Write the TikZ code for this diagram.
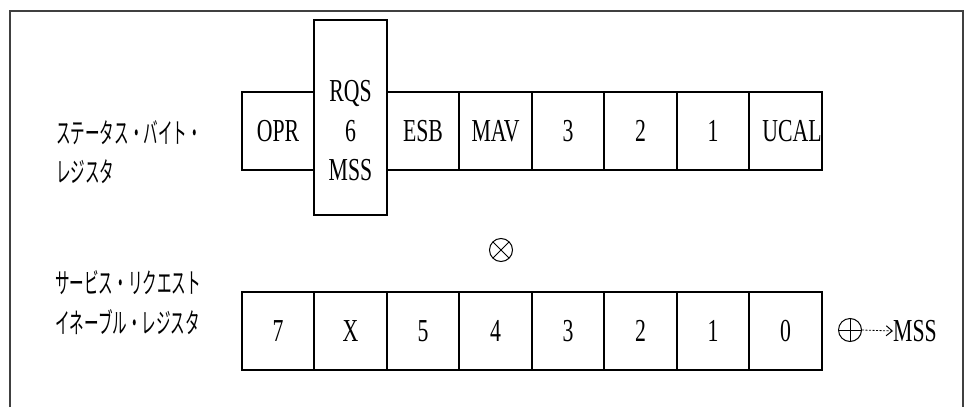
\documentclass[tikz,border=0pt]{standalone}
\usepackage{fontspec}
\usepackage{graphicx}
\setmainfont{Liberation Serif}
\newfontfamily\jpfont{Noto Sans CJK JP}
\usetikzlibrary{arrows.meta}
\newcommand\cnd[1]{\scalebox{0.68}[1]{#1}}
\newcommand\jnd[1]{\scalebox{0.52}[1]{#1}}
\begin{document}
\begin{tikzpicture}[x=1pt,y=-1pt,
  cell/.style={draw, line width=1.8pt, minimum width=72.5pt, minimum height=78pt, inner sep=0pt, font=\fontsize{32}{38}\selectfont},
  txt/.style={inner sep=0pt, font=\fontsize{32}{38}\selectfont},
  jlbl/.style={anchor=west, inner sep=0pt, font=\jpfont\fontsize{28}{32}\selectfont},
  opsym/.style={draw, circle, line width=1pt, minimum size=23pt, inner sep=0pt},
  frame/.style={line width=1.2pt, black!75}]
\useasboundingbox (0,0) rectangle (969,407);
% frame
\draw[frame] (10,407) -- (10,11) -- (963,11) -- (963,407);
% left labels
\node[jlbl] (l1) at (56,133) {\jnd{ステータス・バイト・}};
\node[jlbl] (l2) at (56,172) {\jnd{レジスタ}};
\node[jlbl] (l3) at (55,283) {\jnd{サービス・リクエスト}};
\node[jlbl] (l4) at (55,322) {\jnd{イネーブル・レジスタ}};
% top row
\node[cell] (s7) at (278,131) {\cnd{OPR}};
\node[cell, minimum height=195pt] (s6) at (350.5,117.5) {};
\node[txt] (rqsA) at (350.5,93) {\cnd{RQS}};
\node[txt] (rqsB) at (350.5,131) {\cnd{6}};
\node[txt] (rqsC) at (350.5,170) {\cnd{MSS}};
\node[cell] (s5) at (423,131) {\cnd{ESB}};
\node[cell] (s4) at (495.5,131) {\cnd{MAV}};
\node[cell] (s3) at (568,131) {\cnd{3}};
\node[cell] (s2) at (640.5,131) {\cnd{2}};
\node[cell] (s1) at (713,131) {\cnd{1}};
\node[cell] (s0) at (785.5,131) {};
\node[txt] (ucal) at (792,131) {\cnd{UCAL}};
% operator
\node[opsym, path picture={
  \draw[line width=1pt] (path picture bounding box.north west) -- (path picture bounding box.south east)
    (path picture bounding box.north east) -- (path picture bounding box.south west);}] (otimes) at (501,250) {};
% bottom row
\node[cell] (e7) at (278,331) {\cnd{7}};
\node[cell] (e6) at (350.5,331) {\cnd{X}};
\node[cell] (e5) at (423,331) {\cnd{5}};
\node[cell] (e4) at (495.5,331) {\cnd{4}};
\node[cell] (e3) at (568,331) {\cnd{3}};
\node[cell] (e2) at (640.5,331) {\cnd{2}};
\node[cell] (e1) at (713,331) {\cnd{1}};
\node[cell] (e0) at (785.5,331) {\cnd{0}};
% oplus and MSS
\node[opsym, path picture={
  \draw[line width=1pt] (path picture bounding box.north) -- (path picture bounding box.south)
    (path picture bounding box.west) -- (path picture bounding box.east);}] (oplus) at (850,330) {};
\node[txt, anchor=west] (msso) at (893,331) {\cnd{MSS}};
\draw[line width=0.8pt, dash pattern=on 2pt off 1.5pt, -{Straight Barb[length=6pt,width=10pt,line width=1pt]}] (oplus.east) -- (msso.west);
\end{tikzpicture}
\end{document}
